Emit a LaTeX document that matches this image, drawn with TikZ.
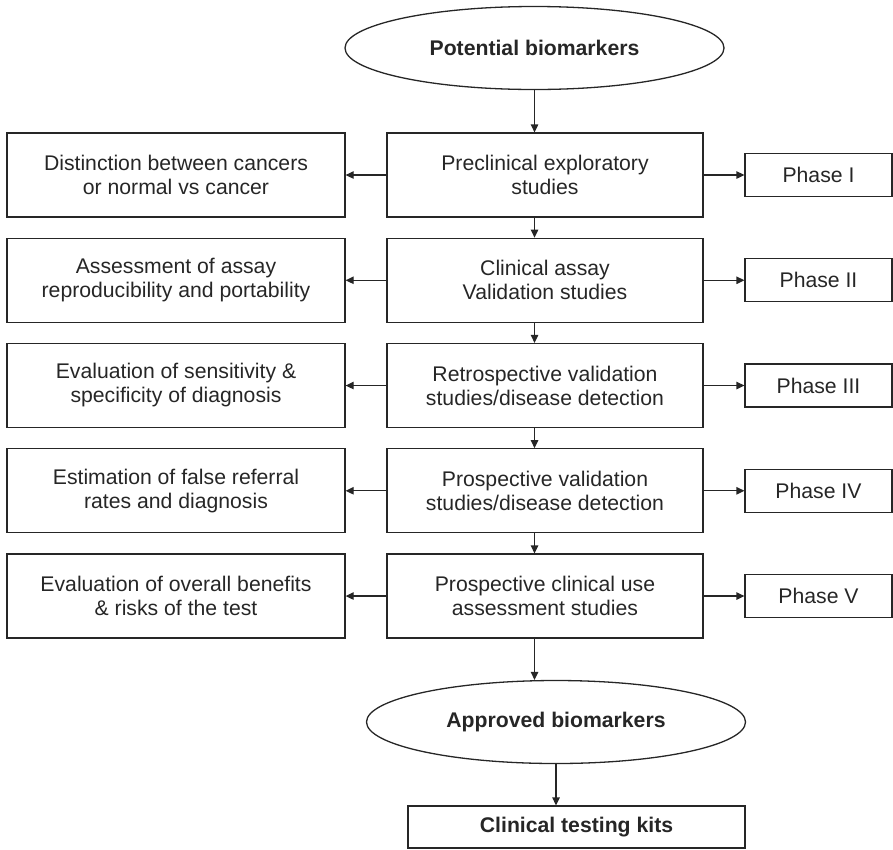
\documentclass[tikz,border=0pt]{standalone}
\usepackage{fontspec}
\setmainfont{Liberation Sans}
\usetikzlibrary{shapes.geometric,arrows.meta}
\tikzset{
  base/.style={draw=black!85, line width=1.3pt, inner sep=0pt, align=center,
    font=\fontsize{21.2}{24}\selectfont, text=black!85},
  midbox/.style={base, rectangle, minimum width=316pt, minimum height=84pt},
  sidebox/.style={base, rectangle, minimum width=338pt, minimum height=84pt},
  phasebox/.style={base, rectangle, minimum width=147pt, minimum height=43pt},
  oval/.style={base, ellipse, minimum width=379pt, minimum height=83pt, font=\fontsize{21.2}{24}\selectfont\bfseries},
  kitbox/.style={base, rectangle, minimum width=337pt, minimum height=42pt, font=\fontsize{21.2}{24}\selectfont\bfseries},
  arr/.style={draw=black!85, line width=1.3pt, -{Triangle[length=8pt,width=7.5pt]}}
}
\begin{document}
\begin{tikzpicture}[x=1pt,y=-1pt]
\useasboundingbox (0,0) rectangle (893,849);
\node[oval] (top) at (534.5,48) {Potential biomarkers};
\node[midbox] (c1) at (545,175) {Preclinical exploratory\\studies};
\node[midbox] (c2) at (545,280.25) {Clinical assay\\Validation studies};
\node[midbox] (c3) at (545,385.5) {Retrospective validation\\studies/disease detection};
\node[midbox] (c4) at (545,490.75) {Prospective validation\\studies/disease detection};
\node[midbox] (c5) at (545,596) {Prospective clinical use\\assessment studies};
\node[sidebox] (l1) at (176,175) {Distinction between cancers\\or normal vs cancer};
\node[sidebox] (l2) at (176,280.25) {Assessment of assay\\reproducibility and portability};
\node[sidebox] (l3) at (176,385.5) {Evaluation of sensitivity \&\\specificity of diagnosis};
\node[sidebox] (l4) at (176,490.75) {Estimation of false referral\\rates and diagnosis};
\node[sidebox] (l5) at (176,596) {Evaluation of overall benefits\\\& risks of the test};
\node[phasebox] (p1) at (818.5,175) {Phase I};
\node[phasebox] (p2) at (818.5,280.25) {Phase II};
\node[phasebox] (p3) at (818.5,385.5) {Phase III};
\node[phasebox] (p4) at (818.5,490.75) {Phase IV};
\node[phasebox] (p5) at (818.5,596) {Phase V};
\node[oval] (bot) at (556,722) {Approved biomarkers};
\node[kitbox] (kit) at (576.5,827) {Clinical testing kits};
\draw[arr] (top.south) -- (c1.north -| top.south);
\draw[arr] (c1.south -| top.south) -- (c2.north -| top.south);
\draw[arr] (c2.south -| top.south) -- (c3.north -| top.south);
\draw[arr] (c3.south -| top.south) -- (c4.north -| top.south);
\draw[arr] (c4.south -| top.south) -- (c5.north -| top.south);
\draw[arr] (c5.south -| top.south) -- (bot.north -| top.south);
\draw[arr] (bot.south) -- (kit.north -| bot.south);
\foreach \i in {1,...,5}{
  \draw[arr] (c\i.west) -- (l\i.east);
  \draw[arr] (c\i.east) -- (p\i.west);
}
\end{tikzpicture}
\end{document}
